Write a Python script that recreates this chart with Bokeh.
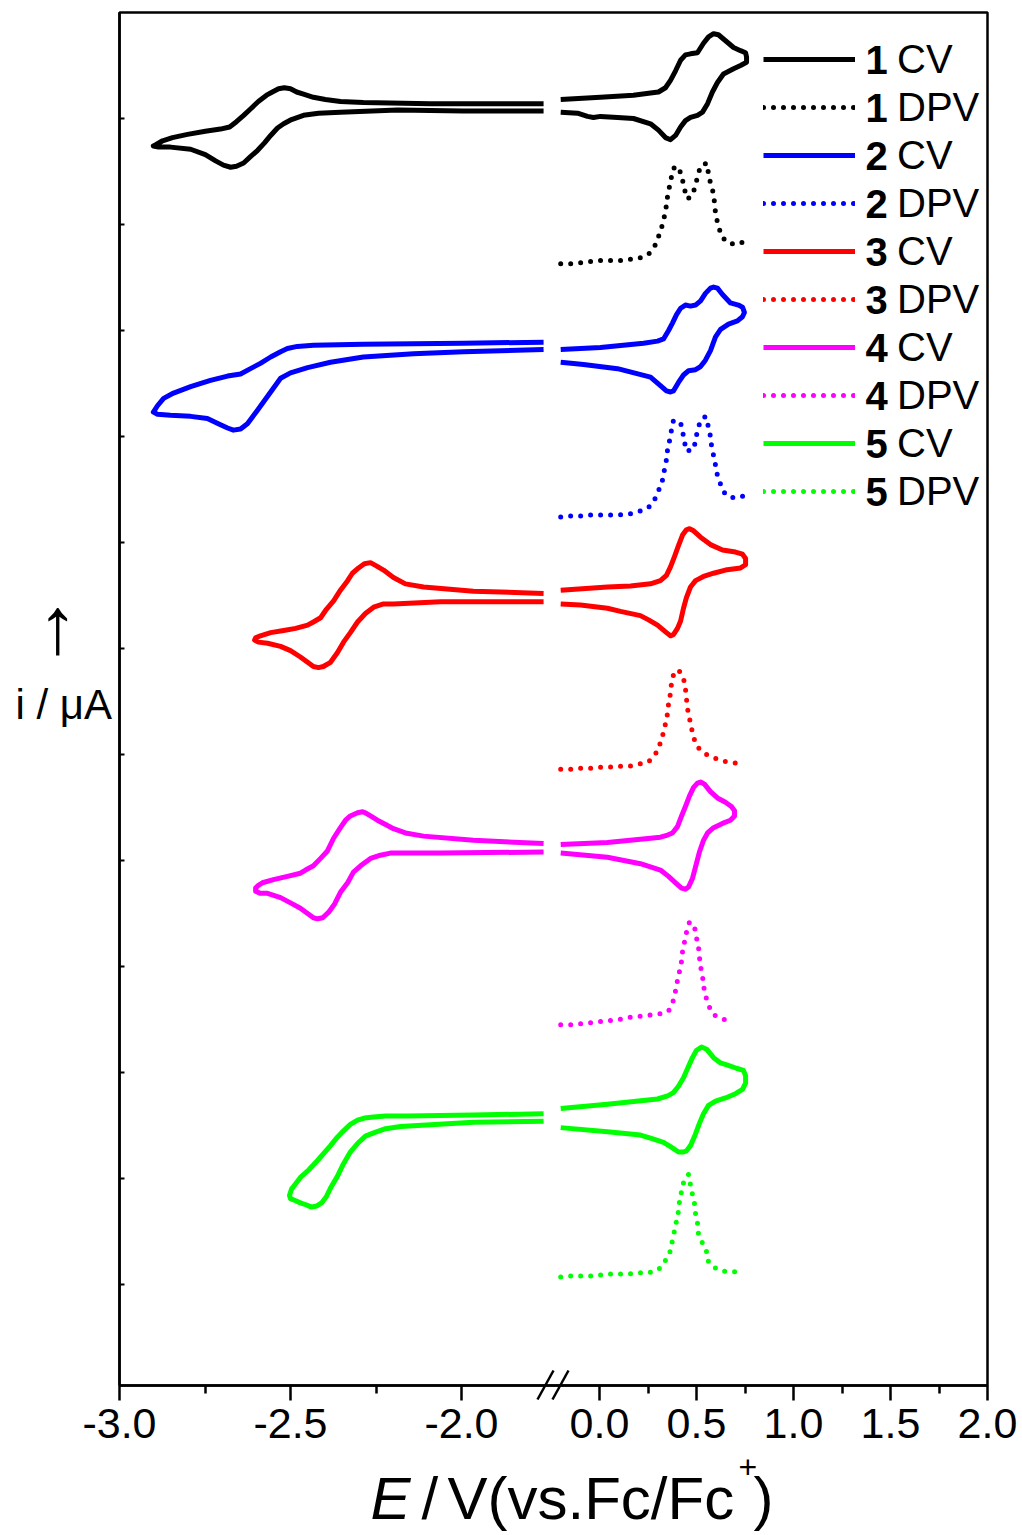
from bokeh.plotting import figure
from bokeh.models import (Range1d, FixedTicker, CustomJSTickFormatter, Legend,
                          LegendItem, Label, Arrow, LinearAxis, BoxAnnotation)
from bokeh.embed import file_html
from bokeh.resources import INLINE

FONT = "Liberation Sans"

# ---------------------------------------------------------------------------
# Data: potential E (V vs Fc/Fc+) and stacked current i (arbitrary offsets)
# Each CV is split at the axis break into a cathodic (left) and anodic (right) part.
# ---------------------------------------------------------------------------
cv1_left_E = [-1.76, -2.091, -2.287, -2.354, -2.398, -2.433, -2.462, -2.482, -2.500, -2.518,
              -2.535, -2.553, -2.570, -2.594, -2.617, -2.637, -2.658, -2.678, -2.705, -2.749,
              -2.801, -2.845, -2.874, -2.895, -2.901,
              -2.886, -2.851, -2.792, -2.749, -2.719, -2.696, -2.675, -2.658, -2.637, -2.617,
              -2.596, -2.576, -2.558, -2.538, -2.520, -2.497, -2.462, -2.418, -2.354, -2.187,
              -1.994, -1.76]
cv1_left_i = [12.14, 12.14, 12.15, 12.16, 12.18, 12.20, 12.23, 12.25, 12.28, 12.29,
              12.28, 12.25, 12.22, 12.16, 12.09, 12.03, 11.97, 11.92, 11.90, 11.88,
              11.85, 11.82, 11.79, 11.75, 11.74,
              11.73, 11.73, 11.71, 11.66, 11.60, 11.56, 11.54, 11.55, 11.58, 11.64,
              11.70, 11.77, 11.84, 11.91, 11.95, 11.99, 12.03, 12.05, 12.06, 12.08,
              12.07, 12.07]
cv1_right_E = [-0.20, 0.005, 0.175, 0.263, 0.304, 0.340, 0.366, 0.392, 0.418, 0.443,
               0.469, 0.505, 0.536, 0.562, 0.588, 0.613, 0.639, 0.691, 0.727, 0.753,
               0.758, 0.758, 0.727, 0.691, 0.639, 0.608, 0.582, 0.557, 0.531, 0.505,
               0.469, 0.443, 0.418, 0.392, 0.366, 0.340, 0.304, 0.263, 0.175, 0.093,
               0.005, -0.031, -0.062, -0.113, -0.20]
cv1_right_i = [12.18, 12.20, 12.22, 12.24, 12.25, 12.29, 12.36, 12.45, 12.55, 12.60,
               12.61, 12.62, 12.71, 12.77, 12.80, 12.79, 12.75, 12.67, 12.64, 12.62,
               12.58, 12.53, 12.50, 12.47, 12.42, 12.34, 12.25, 12.14, 12.06, 12.03,
               12.01, 11.98, 11.92, 11.84, 11.80, 11.82, 11.89, 11.95, 12.00, 12.01,
               12.02, 12.01, 12.02, 12.05, 12.06]
dpv1_E = [-0.20, -0.149, -0.098, -0.052, 0.0, 0.052, 0.103, 0.149, 0.201, 0.253,
          0.289, 0.309, 0.325, 0.335, 0.345, 0.351, 0.361, 0.371, 0.387, 0.412,
          0.428, 0.438, 0.454, 0.479, 0.495, 0.505, 0.521, 0.552, 0.562, 0.572,
          0.588, 0.593, 0.598, 0.608, 0.624, 0.649, 0.701, 0.753]
dpv1_i = [10.63, 10.63, 10.64, 10.65, 10.66, 10.66, 10.66, 10.67, 10.68, 10.72,
          10.81, 10.91, 11.00, 11.08, 11.18, 11.27, 11.36, 11.45, 11.55, 11.52,
          11.42, 11.33, 11.24, 11.28, 11.37, 11.45, 11.55, 11.58, 11.48, 11.39,
          11.29, 11.20, 11.11, 11.02, 10.92, 10.84, 10.81, 10.84]

cv2_left_E = [-1.76, -1.994, -2.287, -2.433, -2.480, -2.509, -2.529, -2.558, -2.588, -2.617,
              -2.646, -2.684, -2.734, -2.792, -2.842, -2.871, -2.889, -2.901,
              -2.889, -2.851, -2.792, -2.743, -2.711, -2.684, -2.667, -2.646, -2.626, -2.596,
              -2.558, -2.529, -2.500, -2.450, -2.383, -2.287, -2.140, -1.994, -1.76]
cv2_left_i = [9.89, 9.88, 9.87, 9.86, 9.85, 9.83, 9.80, 9.75, 9.69, 9.64,
              9.59, 9.57, 9.53, 9.47, 9.41, 9.36, 9.29, 9.23,
              9.21, 9.20, 9.19, 9.17, 9.12, 9.08, 9.06, 9.07, 9.12, 9.25,
              9.42, 9.55, 9.60, 9.65, 9.70, 9.75, 9.78, 9.80, 9.82]
cv2_right_E = [-0.20, 0.005, 0.227, 0.299, 0.330, 0.356, 0.376, 0.397, 0.418, 0.443,
               0.469, 0.495, 0.521, 0.546, 0.572, 0.588, 0.608, 0.634, 0.675, 0.716,
               0.737, 0.747, 0.737, 0.711, 0.665, 0.624, 0.598, 0.572, 0.546, 0.521,
               0.495, 0.459, 0.433, 0.407, 0.381, 0.366, 0.345, 0.314, 0.263, 0.093,
               -0.082, -0.20]
cv2_right_i = [9.82, 9.84, 9.88, 9.90, 9.92, 10.00, 10.07, 10.15, 10.21, 10.24,
               10.23, 10.24, 10.28, 10.35, 10.40, 10.41, 10.40, 10.34, 10.26, 10.24,
               10.22, 10.17, 10.13, 10.09, 10.06, 10.01, 9.94, 9.81, 9.72, 9.66,
               9.63, 9.62, 9.58, 9.51, 9.43, 9.42, 9.43, 9.48, 9.56, 9.64,
               9.68, 9.70]
dpv2_E = [-0.20, -0.149, -0.098, -0.046, 0.0, 0.052, 0.103, 0.155, 0.201, 0.253,
          0.289, 0.309, 0.325, 0.335, 0.345, 0.351, 0.361, 0.371, 0.381, 0.418,
          0.428, 0.438, 0.448, 0.485, 0.495, 0.505, 0.521, 0.546, 0.562, 0.572,
          0.577, 0.588, 0.598, 0.608, 0.624, 0.649, 0.696, 0.747]
dpv2_i = [8.24, 8.25, 8.25, 8.26, 8.26, 8.26, 8.26, 8.27, 8.29, 8.33,
          8.42, 8.51, 8.59, 8.69, 8.78, 8.88, 8.96, 9.06, 9.15, 9.13,
          9.05, 8.95, 8.86, 8.88, 8.96, 9.06, 9.15, 9.19, 9.09, 9.00,
          8.92, 8.82, 8.73, 8.63, 8.55, 8.45, 8.42, 8.44]

cv3_left_E = [-1.76, -1.965, -2.111, -2.164, -2.199, -2.228, -2.249, -2.266, -2.284, -2.301,
              -2.319, -2.333, -2.354, -2.374, -2.395, -2.412, -2.433, -2.450, -2.485, -2.520,
              -2.558, -2.588, -2.602, -2.605,
              -2.594, -2.567, -2.529, -2.500, -2.471, -2.450, -2.433, -2.418, -2.404, -2.383,
              -2.363, -2.345, -2.325, -2.304, -2.281, -2.257, -2.228, -2.199, -2.061, -1.76]
cv3_left_i = [7.52, 7.54, 7.58, 7.61, 7.67, 7.74, 7.78, 7.81, 7.80, 7.76,
              7.71, 7.64, 7.55, 7.45, 7.37, 7.29, 7.25, 7.22, 7.19, 7.17,
              7.15, 7.12, 7.10, 7.08,
              7.06, 7.05, 7.02, 6.98, 6.92, 6.87, 6.83, 6.82, 6.83, 6.87,
              6.96, 7.06, 7.15, 7.25, 7.33, 7.39, 7.42, 7.42, 7.44, 7.44]
cv3_right_E = [-0.20, 0.041, 0.160, 0.263, 0.314, 0.345, 0.366, 0.387, 0.407, 0.428,
               0.448, 0.464, 0.485, 0.521, 0.572, 0.634, 0.701, 0.737, 0.753, 0.753,
               0.727, 0.649, 0.588, 0.536, 0.495, 0.469, 0.448, 0.433, 0.418, 0.402,
               0.381, 0.366, 0.345, 0.299, 0.253, 0.211, 0.108, 0.041, -0.098, -0.20]
cv3_right_i = [7.55, 7.58, 7.59, 7.61, 7.64, 7.69, 7.77, 7.87, 7.97, 8.07,
               8.12, 8.13, 8.11, 8.05, 7.98, 7.93, 7.91, 7.89, 7.85, 7.79,
               7.76, 7.74, 7.71, 7.68, 7.64, 7.58, 7.48, 7.38, 7.26, 7.19,
               7.13, 7.12, 7.15, 7.22, 7.27, 7.31, 7.35, 7.38, 7.41, 7.42]
dpv3_E = [-0.20, -0.144, -0.098, -0.046, 0.005, 0.052, 0.103, 0.155, 0.206, 0.253,
          0.294, 0.314, 0.330, 0.340, 0.351, 0.356, 0.366, 0.371, 0.381, 0.407,
          0.433, 0.443, 0.448, 0.454, 0.464, 0.474, 0.485, 0.505, 0.552, 0.603,
          0.655, 0.701]
dpv3_i = [5.86, 5.86, 5.87, 5.87, 5.88, 5.88, 5.89, 5.89, 5.91, 5.93,
          6.02, 6.11, 6.21, 6.29, 6.39, 6.48, 6.58, 6.67, 6.75, 6.80,
          6.72, 6.62, 6.53, 6.43, 6.34, 6.25, 6.16, 6.07, 6.00, 5.96,
          5.93, 5.92]

cv4_left_E = [-1.76, -1.965, -2.111, -2.164, -2.199, -2.222, -2.246, -2.266, -2.281, -2.289,
              -2.304, -2.325, -2.339, -2.354, -2.374, -2.392, -2.412, -2.433, -2.456, -2.471,
              -2.509, -2.550, -2.582, -2.596, -2.602, -2.602,
              -2.588, -2.567, -2.529, -2.500, -2.471, -2.450, -2.433, -2.421, -2.406, -2.389,
              -2.371, -2.354, -2.333, -2.316, -2.295, -2.266, -2.237, -2.208, -2.061, -1.76]
cv4_left_i = [5.16, 5.19, 5.23, 5.26, 5.30, 5.34, 5.38, 5.42, 5.45, 5.46,
              5.45, 5.42, 5.38, 5.31, 5.21, 5.09, 5.02, 4.95, 4.91, 4.88,
              4.85, 4.82, 4.79, 4.76, 4.74, 4.71,
              4.69, 4.69, 4.65, 4.60, 4.55, 4.50, 4.46, 4.45, 4.46, 4.51,
              4.59, 4.70, 4.79, 4.89, 4.95, 5.02, 5.05, 5.07, 5.07, 5.08]
cv4_right_E = [-0.20, 0.041, 0.211, 0.314, 0.351, 0.376, 0.402, 0.423, 0.443, 0.464,
               0.485, 0.505, 0.521, 0.541, 0.572, 0.608, 0.649, 0.680, 0.696, 0.696,
               0.675, 0.634, 0.588, 0.557, 0.536, 0.515, 0.495, 0.479, 0.459, 0.443,
               0.423, 0.392, 0.356, 0.314, 0.211, 0.041, -0.20]
cv4_right_i = [5.15, 5.17, 5.20, 5.22, 5.24, 5.26, 5.32, 5.42, 5.51, 5.61,
               5.69, 5.73, 5.74, 5.72, 5.65, 5.59, 5.55, 5.51, 5.47, 5.42,
               5.38, 5.35, 5.31, 5.26, 5.19, 5.08, 4.94, 4.83, 4.75, 4.73,
               4.74, 4.79, 4.85, 4.91, 4.97, 5.03, 5.07]
dpv4_E = [-0.20, -0.144, -0.098, -0.046, 0.005, 0.052, 0.103, 0.155, 0.206, 0.253,
          0.304, 0.356, 0.381, 0.392, 0.402, 0.412, 0.423, 0.428, 0.438, 0.448,
          0.464, 0.490, 0.500, 0.510, 0.515, 0.521, 0.531, 0.536, 0.546, 0.562,
          0.593, 0.639, 0.691]
dpv4_i = [3.45, 3.45, 3.46, 3.47, 3.48, 3.49, 3.50, 3.52, 3.53, 3.54,
          3.55, 3.58, 3.68, 3.77, 3.87, 3.95, 4.05, 4.14, 4.23, 4.32,
          4.42, 4.37, 4.27, 4.19, 4.09, 4.00, 3.91, 3.82, 3.73, 3.63,
          3.54, 3.50, 3.50]

cv5_left_E = [-1.76, -1.965, -2.158, -2.222, -2.257, -2.284, -2.304, -2.325, -2.345, -2.363,
              -2.383, -2.421, -2.447, -2.471, -2.485, -2.497, -2.503, -2.500,
              -2.485, -2.471, -2.453, -2.439, -2.424, -2.409, -2.395, -2.383, -2.363, -2.345,
              -2.325, -2.304, -2.281, -2.257, -2.222, -2.178, -1.965, -1.76]
cv5_left_i = [2.61, 2.60, 2.59, 2.59, 2.58, 2.57, 2.55, 2.51, 2.45, 2.39,
              2.31, 2.17, 2.08, 2.01, 1.95, 1.90, 1.84, 1.81,
              1.79, 1.77, 1.75, 1.73, 1.74, 1.77, 1.83, 1.91, 2.02, 2.14,
              2.25, 2.33, 2.40, 2.43, 2.47, 2.49, 2.53, 2.54]
cv5_right_E = [-0.20, 0.041, 0.299, 0.351, 0.381, 0.407, 0.433, 0.459, 0.479, 0.500,
               0.526, 0.552, 0.588, 0.624, 0.660, 0.706, 0.742, 0.753, 0.753, 0.737,
               0.701, 0.649, 0.598, 0.562, 0.536, 0.515, 0.495, 0.469, 0.448, 0.433,
               0.407, 0.366, 0.330, 0.263, 0.211, 0.041, -0.20]
cv5_right_i = [2.66, 2.70, 2.75, 2.78, 2.81, 2.87, 2.95, 3.06, 3.14, 3.21,
               3.24, 3.22, 3.14, 3.09, 3.07, 3.04, 3.02, 2.97, 2.90, 2.84,
               2.80, 2.76, 2.73, 2.69, 2.61, 2.52, 2.42, 2.31, 2.26, 2.25,
               2.25, 2.30, 2.34, 2.38, 2.41, 2.44, 2.48]
dpv5_E = [-0.20, -0.144, -0.098, -0.046, 0.005, 0.052, 0.103, 0.155, 0.206, 0.253,
          0.304, 0.345, 0.366, 0.376, 0.387, 0.397, 0.407, 0.412, 0.423, 0.433,
          0.459, 0.469, 0.479, 0.490, 0.495, 0.505, 0.510, 0.531, 0.557, 0.562,
          0.608, 0.660, 0.711]
dpv5_i = [1.07, 1.08, 1.08, 1.08, 1.09, 1.10, 1.10, 1.10, 1.11, 1.11,
          1.14, 1.24, 1.32, 1.42, 1.51, 1.60, 1.69, 1.78, 1.88, 1.96,
          2.04, 1.94, 1.85, 1.76, 1.67, 1.58, 1.48, 1.39, 1.29, 1.21,
          1.14, 1.12, 1.12]

compounds = ["1", "2", "3", "4", "5"]
colors = ["#000000", "#0000FF", "#FF0000", "#FF00FF", "#00FF00"]

left_ticks = [-3.0, -2.5, -2.0]
left_minor = [-2.75, -2.25]
right_ticks = [0.0, 0.5, 1.0, 1.5, 2.0]
right_minor = [0.25, 0.75, 1.25, 1.75]
y_ticks = list(range(1, 13))

# ---------------------------------------------------------------------------
# Layout: the plotting frame fills the whole canvas; the axes are pinned inside
# it so that titles and break marks outside the data box are not clipped.
# ---------------------------------------------------------------------------
W, H = 1022, 1535
BOX_L, BOX_R, BOX_T, BOX_B = 119, 987, 12, 1385      # data box, canvas px
PX_LEFT, PX_RIGHT, PX_Y = 342.0, 194.0, 106.0       # px per V (two panels), px per unit
ZERO_RIGHT = 599                                    # canvas x of 0.0 V

XL0 = -3.0 - BOX_L / PX_LEFT
XL1 = XL0 + W / PX_LEFT
XR0 = -ZERO_RIGHT / PX_RIGHT
XR1 = XR0 + W / PX_RIGHT
Y_TOP = 13.0
YT = Y_TOP + BOX_T / PX_Y
YB = YT - H / PX_Y
Y_BOTTOM = Y_TOP - (BOX_B - BOX_T) / PX_Y
X_BOX_END = -3.0 + (BOX_R - BOX_L) / PX_LEFT


def to_left(e):
    """Position of an anodic-panel potential on the main (cathodic) scale."""
    return XL0 + (e - XR0) * (XL1 - XL0) / (XR1 - XR0)


def sy(y_canvas):
    """Screen y (measured up from the frame bottom) of a canvas row."""
    return H - y_canvas


p = figure(width=W, height=H, output_backend="svg", toolbar_location=None,
           x_range=Range1d(XL0, XL1), y_range=Range1d(YB, YT),
           x_axis_location=None, y_axis_location=None, min_border=0)
p.extra_x_ranges = {"right": Range1d(XR0, XR1)}
p.grid.visible = False
p.outline_line_color = None

# frame of the data box
p.add_layout(BoxAnnotation(left=BOX_L, right=BOX_R, top=sy(BOX_T), bottom=sy(BOX_B),
                           left_units="screen", right_units="screen",
                           top_units="screen", bottom_units="screen",
                           fill_alpha=0, line_color="black", line_alpha=1.0,
                           line_width=2.5))

xa = LinearAxis(fixed_location=Y_BOTTOM, bounds=(-3.0, X_BOX_END))
xa.ticker = FixedTicker(ticks=left_ticks + [to_left(e) for e in right_ticks],
                        minor_ticks=left_minor + [to_left(e) for e in right_minor])
xa.formatter = CustomJSTickFormatter(
    args=dict(L0=XL0, L1=XL1, R0=XR0, R1=XR1),
    code="""
    let e = tick;
    if (tick > -1.7) { e = R0 + (tick - L0) * (R1 - R0) / (L1 - L0); }
    e = Math.round(e * 100) / 100;
    return e.toFixed(1);
    """)
xa.axis_line_width = 2.5
xa.major_tick_line_width = 2.5
xa.minor_tick_line_width = 2.5
xa.major_tick_in = 0
xa.major_tick_out = 15
xa.minor_tick_in = 0
xa.minor_tick_out = 8
xa.major_label_standoff = 8
xa.major_label_text_font = FONT
xa.major_label_text_font_size = "43px"
xa.major_label_text_color = "black"
p.add_layout(xa, "below")

ya = LinearAxis(fixed_location=-3.0, bounds=(Y_BOTTOM, Y_TOP))
ya.ticker = FixedTicker(ticks=y_ticks, minor_ticks=[])
ya.formatter = CustomJSTickFormatter(code="return '';")
ya.axis_line_width = 2.5
ya.major_tick_line_width = 2
ya.major_tick_in = 5
ya.major_tick_out = 0
ya.major_label_standoff = 0
p.add_layout(ya, "left")

# ---------------------------------------------------------------------------
# Curves
# ---------------------------------------------------------------------------
series = [
    (cv1_left_E, cv1_left_i, cv1_right_E, cv1_right_i, dpv1_E, dpv1_i),
    (cv2_left_E, cv2_left_i, cv2_right_E, cv2_right_i, dpv2_E, dpv2_i),
    (cv3_left_E, cv3_left_i, cv3_right_E, cv3_right_i, dpv3_E, dpv3_i),
    (cv4_left_E, cv4_left_i, cv4_right_E, cv4_right_i, dpv4_E, dpv4_i),
    (cv5_left_E, cv5_left_i, cv5_right_E, cv5_right_i, dpv5_E, dpv5_i),
]

items = []
for name, color, (lE, li, rE, ri, dE, di) in zip(compounds, colors, series):
    p.line(lE, li, line_color=color, line_width=5, line_join="round")
    r_cv = p.line(rE, ri, line_color=color, line_width=5, line_join="round",
                  x_range_name="right")
    r_dpv = p.line(dE, di, line_color=color, line_width=5, line_dash="0 10",
                   line_cap="round", line_join="round", x_range_name="right")
    items.append(LegendItem(label="CV", renderers=[r_cv]))
    items.append(LegendItem(label="DPV", renderers=[r_dpv]))

ROW = 48
LEG_TOP = 35
legend = Legend(items=items, location=(763, sy(LEG_TOP + ROW * len(items))),
                orientation="vertical", glyph_width=92, glyph_height=ROW,
                label_height=ROW, spacing=0, padding=0, margin=0, label_standoff=42,
                label_text_font=FONT, label_text_font_size="40px",
                label_text_color="black", border_line_color=None,
                background_fill_alpha=0)
p.add_layout(legend)

# bold compound numbers in front of the legend labels
for k, name in enumerate(compounds):
    for j in range(2):
        row = 2 * k + j
        p.add_layout(Label(x=865, y=sy(LEG_TOP + ROW / 2 + ROW * row),
                           x_units="screen", y_units="screen", text=name,
                           text_font=FONT, text_font_size="40px",
                           text_font_style="bold", text_baseline="middle",
                           text_color="black"))

# axis break marks
for dx in (0, 15):
    p.add_layout(Arrow(start=None, end=None, x_start=537 + dx, y_start=sy(1399),
                       x_end=553 + dx, y_end=sy(1370), start_units="screen",
                       end_units="screen", line_width=2.5, line_color="black"))

# current axis title
p.add_layout(Label(x=57, y=sy(625), x_units="screen", y_units="screen", text="\u2191",
                   text_font=FONT, text_font_size="80px", text_align="center",
                   text_baseline="middle", text_color="black"))
p.add_layout(Label(x=15, y=sy(704), x_units="screen", y_units="screen",
                   text="i / \u03bcA", text_font=FONT, text_font_size="42px",
                   text_baseline="middle", text_color="black"))

# potential axis title
title_parts = [
    ("E", 370, sy(1498), "60px", "italic"),
    ("/", 421, sy(1498), "60px", "normal"),
    ("V(vs.Fc/Fc", 447, sy(1498), "60px", "normal"),
    ("+", 738, sy(1466), "32px", "normal"),
    (")", 753, sy(1498), "60px", "normal"),
]
for txt, x, y, size, style in title_parts:
    p.add_layout(Label(x=x, y=y, x_units="screen", y_units="screen", text=txt,
                       text_font=FONT, text_font_size=size, text_font_style=style,
                       text_baseline="middle", text_color="black"))

open("out.html", "w").write(file_html(p, INLINE))
